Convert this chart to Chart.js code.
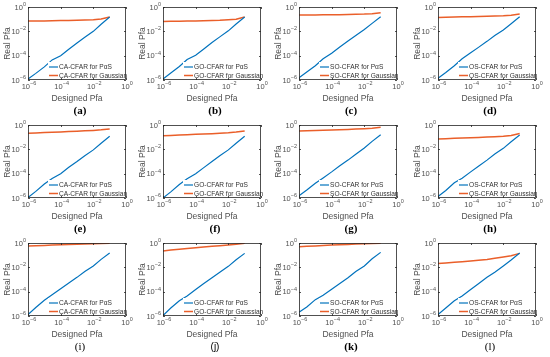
<!DOCTYPE html>
<html>
<head>
<meta charset="utf-8">
<script src="https://cdn.jsdelivr.net/npm/chart.js@4.4.1/dist/chart.umd.min.js"></script>
<style>
  body { margin: 0; background: #fff; width: 550px; height: 357px; position: relative; overflow: hidden; }
  canvas { position: absolute; }
</style>
</head>
<body>
<div id="wrap"></div>
<script>
// shared x values (designed false alarm probability)
const designedPfa = [1e-6, 3e-6, 1e-5, 3e-5, 1e-4, 3e-4, 1e-3, 3e-3, 1e-2, 3e-2, 1e-1];
const tickValues = [1e-6, 1e-4, 1e-2, 1];
const tickExponents = ["\u22126", "\u22124", "\u22122", "0"];

const panelLabels = ["(a)", "(b)", "(c)", "(d)", "(e)", "(f)", "(g)", "(h)", "(i)", "(j)", "(k)", "(l)"];
const cfarTypes = ["CA", "GO", "SO", "OS", "CA", "GO", "SO", "OS", "CA", "GO", "SO", "OS"];
const captionFonts = [
  "bold 11px 'Liberation Serif'", "bold 11px 'Liberation Serif'", "bold 11px 'Liberation Serif'", "bold 11px 'Liberation Serif'",
  "bold 11px 'Liberation Serif'", "bold 11px 'Liberation Serif'", "bold 11px 'Liberation Serif'", "bold 11px 'Liberation Serif'",
  "11px 'Liberation Serif'", "10px 'Liberation Sans'", "bold 11px 'Liberation Serif'", "11px 'Liberation Serif'"
];

// real Pfa under PaS clutter
const pasPfa = [
  [1.2e-6, 3.5e-6, 1.2e-5, 4.5e-5, 1.0e-4, 3.2e-4, 1.1e-3, 3.2e-3, 1.0e-2, 3.8e-2, 1.5e-1],
  [1.2e-6, 3.8e-6, 1.3e-5, 4.8e-5, 1.1e-4, 3.4e-4, 1.2e-3, 3.5e-3, 1.1e-2, 4.0e-2, 1.5e-1],
  [1.5e-6, 4.5e-6, 1.5e-5, 5.5e-5, 1.6e-4, 5.0e-4, 1.6e-3, 4.5e-3, 1.4e-2, 4.5e-2, 1.6e-1],
  [1.4e-6, 4.2e-6, 1.5e-5, 5.5e-5, 1.7e-4, 4.8e-4, 1.5e-3, 4.5e-3, 1.3e-2, 4.2e-2, 1.6e-1],
  [1.1e-6, 3.5e-6, 1.4e-5, 4.0e-5, 1.0e-4, 3.2e-4, 1.0e-3, 3.0e-3, 9.0e-3, 3.2e-2, 1.2e-1],
  [1.0e-6, 3.2e-6, 1.3e-5, 3.8e-5, 1.0e-4, 3.0e-4, 1.0e-3, 3.0e-3, 9.0e-3, 3.2e-2, 1.2e-1],
  [1.5e-6, 4.5e-6, 1.6e-5, 4.5e-5, 1.4e-4, 4.2e-4, 1.3e-3, 4.0e-3, 1.3e-2, 4.5e-2, 1.6e-1],
  [1.3e-6, 4.2e-6, 1.8e-5, 4.2e-5, 1.4e-4, 4.0e-4, 1.3e-3, 4.2e-3, 1.2e-2, 4.2e-2, 1.5e-1],
  [1.3e-6, 5.0e-6, 2.0e-5, 5.5e-5, 1.7e-4, 5.0e-4, 1.5e-3, 4.5e-3, 1.3e-2, 4.5e-2, 1.5e-1],
  [1.1e-6, 4.5e-6, 1.8e-5, 4.5e-5, 1.5e-4, 4.5e-4, 1.4e-3, 4.0e-3, 1.2e-2, 4.2e-2, 1.4e-1],
  [2.0e-6, 5.5e-6, 2.2e-5, 5.0e-5, 1.6e-4, 4.5e-4, 1.4e-3, 4.5e-3, 1.3e-2, 5.0e-2, 1.7e-1],
  [1.3e-6, 4.5e-6, 1.8e-5, 4.5e-5, 1.5e-4, 4.5e-4, 1.5e-3, 4.0e-3, 1.3e-2, 4.0e-2, 1.5e-1]
];

// real Pfa under Gaussian clutter
const gaussPfa = [
  [7.0e-2, 7.1e-2, 7.2e-2, 7.4e-2, 7.6e-2, 7.8e-2, 8.0e-2, 8.4e-2, 9.0e-2, 1.05e-1, 1.5e-1],
  [6.5e-2, 6.6e-2, 6.8e-2, 7.0e-2, 7.2e-2, 7.5e-2, 7.8e-2, 8.2e-2, 9.0e-2, 1.0e-1, 1.5e-1],
  [2.2e-1, 2.2e-1, 2.25e-1, 2.3e-1, 2.3e-1, 2.35e-1, 2.4e-1, 2.5e-1, 2.6e-1, 2.8e-1, 3.4e-1],
  [1.4e-1, 1.45e-1, 1.5e-1, 1.55e-1, 1.6e-1, 1.65e-1, 1.7e-1, 1.8e-1, 1.9e-1, 2.1e-1, 2.6e-1],
  [2.1e-1, 2.25e-1, 2.4e-1, 2.55e-1, 2.7e-1, 2.9e-1, 3.1e-1, 3.3e-1, 3.6e-1, 4.0e-1, 4.7e-1],
  [1.3e-1, 1.4e-1, 1.5e-1, 1.6e-1, 1.7e-1, 1.8e-1, 1.95e-1, 2.1e-1, 2.3e-1, 2.6e-1, 3.2e-1],
  [3.2e-1, 3.35e-1, 3.5e-1, 3.7e-1, 3.9e-1, 4.1e-1, 4.3e-1, 4.6e-1, 5.0e-1, 5.5e-1, 6.5e-1],
  [7.0e-2, 7.5e-2, 8.0e-2, 8.5e-2, 9.0e-2, 9.6e-2, 1.03e-1, 1.1e-1, 1.2e-1, 1.4e-1, 2.0e-1],
  [5.6e-1, 5.9e-1, 6.3e-1, 6.7e-1, 7.1e-1, 7.5e-1, 7.9e-1, 8.3e-1, 8.8e-1, 9.2e-1, 9.6e-1],
  [2.2e-1, 2.6e-1, 3.0e-1, 3.5e-1, 4.0e-1, 4.6e-1, 5.3e-1, 6.0e-1, 7.0e-1, 8.0e-1, 9.5e-1],
  [5.0e-1, 5.4e-1, 5.8e-1, 6.2e-1, 6.7e-1, 7.2e-1, 7.7e-1, 8.2e-1, 8.8e-1, 9.2e-1, 9.6e-1],
  [2.1e-2, 2.3e-2, 2.6e-2, 2.9e-2, 3.3e-2, 3.8e-2, 4.5e-2, 5.5e-2, 7.0e-2, 9.0e-2, 1.4e-1]
];

const blue = "#0072BD";
const orange = "#EA5F2A";
const axisColor = "#262626";
const textColor = "#505050";

const colLeft = [0, 135, 271, 410];
const rowTop = [0, 118, 236];

const baseFont = "7.5px 'Liberation Sans'";
const expFont = "5.5px 'Liberation Sans'";

// "10" with a raised exponent, anchored at (x, y); align: 'center' or 'right'
function drawPower(ctx, exp, x, y, align) {
  ctx.font = baseFont;
  const wb = ctx.measureText("10").width;
  ctx.font = expFont;
  const we = ctx.measureText(exp).width;
  const x0 = align === "center" ? x - (wb + we) / 2 : x - wb - we;
  ctx.textAlign = "left";
  ctx.textBaseline = "alphabetic";
  ctx.font = baseFont;
  ctx.fillText("10", x0, y + 2.8);
  ctx.font = expFont;
  ctx.fillText(exp, x0 + wb, y - 1);
}

// box, inner ticks, tick labels, legend inside the axes and the panel caption
const panelDecor = {
  id: "panelDecor",
  afterDatasetsDraw(chart, args, opts) {
    const { ctx, chartArea: a, scales } = chart;
    ctx.save();

    // legend (bottom right, inside the axes)
    const lx = a.left + 20, ly = a.bottom - 18;
    ctx.fillStyle = "#fff";
    ctx.fillRect(lx, ly, a.right - lx, a.bottom - ly);
    ctx.font = "6.6px 'Liberation Sans'";
    ctx.textBaseline = "middle";
    ctx.textAlign = "left";
    const items = [[blue, 1.2, opts.type + "-CFAR for P\u03B1S"], [orange, 1.5, opts.type + "-CFAR for Gaussian"]];
    items.forEach((it, k) => {
      const y = ly + 5 + k * 8.5;
      ctx.strokeStyle = it[0];
      ctx.lineWidth = it[1];
      ctx.beginPath();
      ctx.moveTo(lx + 1, y);
      ctx.lineTo(lx + 10, y);
      ctx.stroke();
      ctx.fillStyle = "#333";
      ctx.fillText(it[2], lx + 11, y + 0.5);
    });

    // axes box
    ctx.strokeStyle = axisColor;
    ctx.lineWidth = 0.8;
    ctx.strokeRect(a.left + 0.5, a.top + 0.5, a.width - 1, a.height - 1);

    // major tick marks pointing inward
    ctx.beginPath();
    tickValues.forEach(v => {
      const x = Math.round(scales.x.getPixelForValue(v)) + 0.5;
      const y = Math.round(scales.y.getPixelForValue(v)) + 0.5;
      ctx.moveTo(x, a.bottom); ctx.lineTo(x, a.bottom - 2);
      ctx.moveTo(x, a.top); ctx.lineTo(x, a.top + 2);
      ctx.moveTo(a.left, y); ctx.lineTo(a.left + 2, y);
      ctx.moveTo(a.right, y); ctx.lineTo(a.right - 2, y);
    });
    ctx.stroke();

    // tick labels with superscript exponents
    ctx.fillStyle = textColor;
    tickValues.forEach((v, k) => {
      drawPower(ctx, tickExponents[k], scales.x.getPixelForValue(v) + 1, a.bottom + 6, "center");
      drawPower(ctx, tickExponents[k], a.left - 2, scales.y.getPixelForValue(v), "right");
    });

    // caption under the panel
    ctx.fillStyle = "#000";
    ctx.font = opts.captionFont;
    ctx.textAlign = "center";
    ctx.textBaseline = "middle";
    ctx.fillText(opts.caption, (a.left + a.right) / 2 + 3, 111);
    ctx.restore();
  }
};

const wrap = document.getElementById("wrap");

panelLabels.forEach((label, i) => {
  const canvas = document.createElement("canvas");
  canvas.width = 137;
  canvas.height = 118;
  canvas.style.left = colLeft[i % 4] + "px";
  canvas.style.top = rowTop[Math.floor(i / 4)] + "px";
  wrap.appendChild(canvas);

  const axisBase = {
    type: "logarithmic",
    min: 1e-6,
    max: 1,
    afterBuildTicks: s => { s.ticks = tickValues.map(v => ({ value: v })); },
    ticks: { display: false },
    grid: { display: false },
    border: { display: false }
  };

  new Chart(canvas.getContext("2d"), {
    type: "line",
    data: {
      labels: designedPfa,
      datasets: [
        { label: cfarTypes[i] + "-CFAR for P\u03B1S", data: designedPfa.map((x, k) => ({ x: x, y: pasPfa[i][k] })), borderColor: blue, borderWidth: 1.2, pointRadius: 0, tension: 0 },
        { label: cfarTypes[i] + "-CFAR for Gaussian", data: designedPfa.map((x, k) => ({ x: x, y: gaussPfa[i][k] })), borderColor: orange, borderWidth: 1.5, pointRadius: 0, tension: 0 }
      ]
    },
    options: {
      responsive: false,
      animation: false,
      layout: { padding: { left: 0, right: 11, top: 7, bottom: 14 } },
      plugins: {
        legend: { display: false },
        tooltip: { enabled: false },
        panelDecor: { type: cfarTypes[i], caption: label, captionFont: captionFonts[i] }
      },
      scales: {
        x: Object.assign({}, axisBase, {
          title: { display: true, text: "Designed Pfa", color: textColor, font: { family: "Liberation Sans", size: 8.5 }, padding: 0 },
          afterFit: s => { s.height = 24; }
        }),
        y: Object.assign({}, axisBase, {
          title: { display: true, text: "Real Pfa", color: textColor, font: { family: "Liberation Sans", size: 8.5 }, padding: { top: 3, bottom: 0 } },
          afterFit: s => { s.width = 28; }
        })
      }
    },
    plugins: [panelDecor]
  });
});
</script>
</body>
</html>
